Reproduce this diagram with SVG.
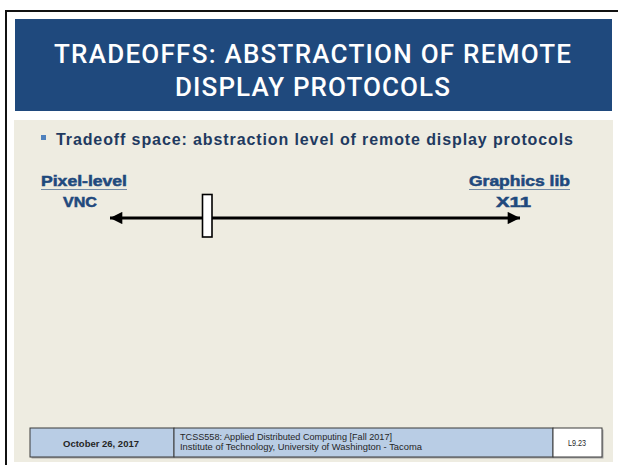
<svg xmlns="http://www.w3.org/2000/svg" width="618" height="465" viewBox="0 0 618 465">
  <style>
    .title { font-family: Roboto, "Liberation Sans", sans-serif; font-weight: 500; font-size: 26px; fill: #ffffff; }
    .bullet { font-family: "Liberation Sans", Arial, sans-serif; font-weight: bold; font-size: 16px; fill: #1f3a60; }
    .lbl { font-family: "Liberation Sans", Arial, sans-serif; font-weight: bold; font-size: 14px; fill: #1f497d; stroke: #1f497d; stroke-width: 0.5; }
    .foot { font-family: "Liberation Sans", Arial, sans-serif; font-size: 9.4px; fill: #262626; }
    .cell { stroke: #3a3a3a; stroke-width: 1; }
  </style>
  <defs>
    <marker id="head" viewBox="0 0 10 10" refX="10" refY="5" markerWidth="5" markerHeight="4.4" markerUnits="strokeWidth" orient="auto-start-reverse">
      <path d="M0,0 L10,5 L0,10 Z" fill="#000000"/>
    </marker>
  </defs>

  <!-- page background and slide frame -->
  <rect x="0" y="0" width="618" height="465" fill="#ffffff"/>
  <rect x="6" y="11" width="640" height="470" fill="#ffffff" stroke="#111111" stroke-width="2"/>

  <!-- title bar -->
  <g id="title">
    <rect x="15" y="19" width="597" height="92" fill="#1f497d"/>
    <text class="title" x="54" y="63" textLength="517" lengthAdjust="spacing">TRADEOFFS: ABSTRACTION OF REMOTE</text>
    <text class="title" x="175" y="96" textLength="275" lengthAdjust="spacing">DISPLAY PROTOCOLS</text>
  </g>

  <!-- content panel -->
  <rect x="14" y="120" width="599" height="342" fill="#eeece1"/>

  <g id="bullet">
    <rect x="41" y="135" width="5" height="5" fill="#4f81bd"/>
    <text class="bullet" x="56" y="144.5" textLength="517" lengthAdjust="spacing">Tradeoff space: abstraction level of remote display protocols</text>
  </g>

  <g id="pixel-level">
    <text class="lbl" x="41" y="186" textLength="86" lengthAdjust="spacingAndGlyphs">Pixel-level</text>
    <line x1="41" y1="189.5" x2="127" y2="189.5" stroke="#1f497d" stroke-opacity="0.6" stroke-width="1"/>
    <text class="lbl" x="63" y="207" textLength="34" lengthAdjust="spacingAndGlyphs">VNC</text>
  </g>

  <g id="graphics-lib">
    <text class="lbl" x="469" y="186" textLength="101" lengthAdjust="spacingAndGlyphs">Graphics lib</text>
    <line x1="469" y1="189.5" x2="570" y2="189.5" stroke="#1f497d" stroke-opacity="0.6" stroke-width="1"/>
    <text class="lbl" x="496" y="207" textLength="35" lengthAdjust="spacingAndGlyphs">X11</text>
  </g>

  <!-- connectors -->
  <g id="connectors">
    <line x1="110" y1="218" x2="520" y2="218" stroke="#000000" stroke-width="2.8" marker-start="url(#head)" marker-end="url(#head)"/>
  </g>

  <g id="slider">
    <rect x="202.5" y="194.5" width="9.5" height="42.5" fill="#ffffff" stroke="#000000" stroke-width="1.6"/>
  </g>

  <!-- footer table -->
  <g id="footer">
    <rect x="31.5" y="429.5" width="572" height="29" fill="#a6a6a6"/>
    <rect x="30" y="428" width="144" height="29" fill="#b9cde5" class="cell"/>
    <rect x="174" y="428" width="379" height="29" fill="#b9cde5" class="cell"/>
    <rect x="553" y="428" width="49" height="29" fill="#ffffff" class="cell"/>
    <text class="foot" x="63" y="447" font-size="11" font-weight="bold" textLength="76" lengthAdjust="spacingAndGlyphs">October 26, 2017</text>
    <text class="foot" x="180" y="440" textLength="212" lengthAdjust="spacingAndGlyphs">TCSS558: Applied Distributed Computing [Fall 2017]</text>
    <text class="foot" x="180" y="450" textLength="242" lengthAdjust="spacingAndGlyphs">Institute of Technology, University of Washington - Tacoma</text>
    <text class="foot" x="568" y="446" font-size="7.8" textLength="18" lengthAdjust="spacingAndGlyphs">L9.23</text>
  </g>
</svg>
